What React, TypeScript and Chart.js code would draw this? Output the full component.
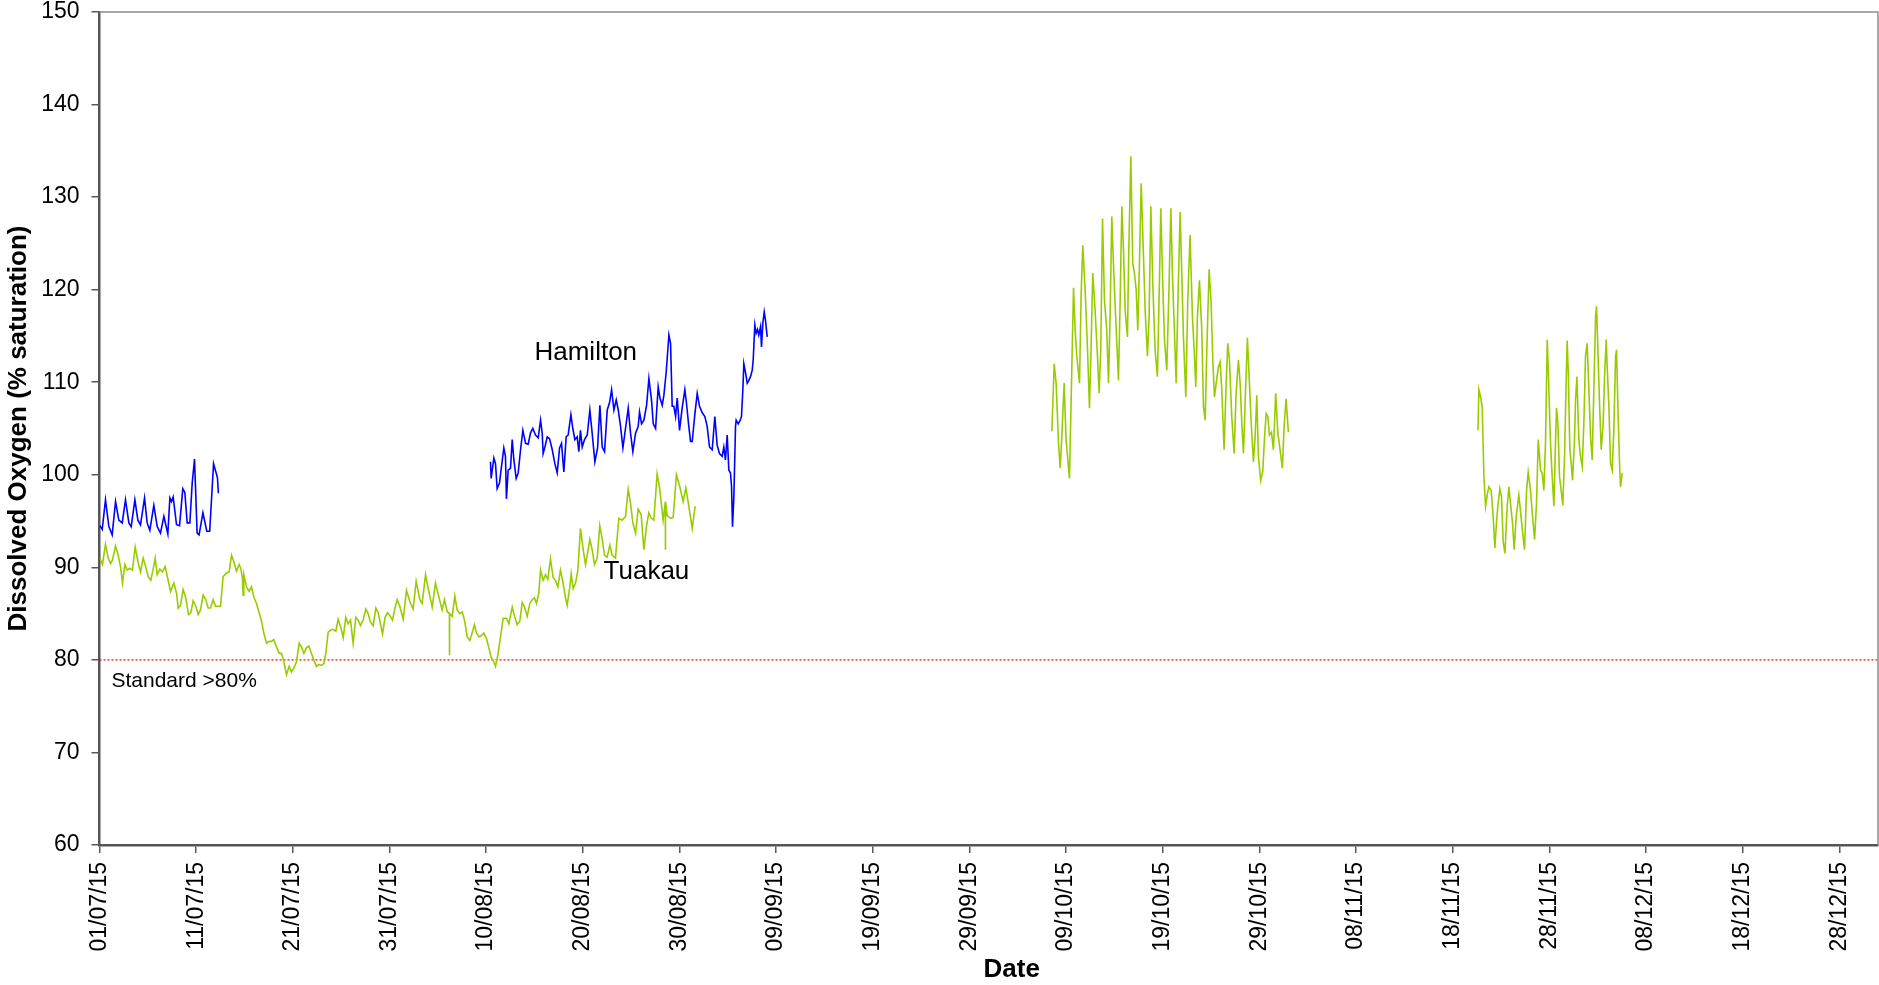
import { useEffect, useRef } from "react";
import { Chart, registerables, type Plugin } from "chart.js";

Chart.register(...registerables);

const FONT = '"Liberation Sans", Arial, sans-serif';

// x values are days counted from 01/07/15
const START = Date.UTC(2015, 6, 1);
const X_MAX = 184;
const Y_MIN = 60;
const Y_MAX = 150;
const STANDARD = 80;

type Pt = [number, number];

const hamiltonJul: Pt[] = [
  [0.03, 94.5], [0.28, 94.1], [0.62, 97.3], [0.97, 94.4], [1.31, 93.5], [1.66, 97.1], [2.0, 95.1], [2.35, 94.8],
  [2.69, 97.3], [3.04, 94.8], [3.28, 94.4], [3.66, 97.3], [3.97, 95.1], [4.24, 94.6], [4.66, 97.5], [4.93, 94.8],
  [5.21, 94.0], [5.62, 96.7], [5.97, 94.4], [6.31, 93.7], [6.66, 95.5], [7.07, 93.6], [7.28, 97.5], [7.45, 97.1],
  [7.62, 97.6], [7.97, 94.6], [8.28, 94.5], [8.62, 98.5], [8.83, 98.1], [9.07, 94.8], [9.35, 94.8], [9.59, 99.1],
  [9.83, 101.7], [10.1, 93.7], [10.3, 93.5], [10.7, 95.9], [11.1, 93.9], [11.4, 93.9], [11.8, 101.2], [12.2, 99.7],
  [12.3, 98.0],
];

const hamiltonAug: Pt[] = [
  [40.45, 101.4], [40.52, 99.6], [40.8, 101.8], [40.97, 101.2], [41.14, 98.5], [41.38, 99.1], [41.59, 100.9],
  [41.83, 102.9], [42.0, 102.0], [42.1, 97.4], [42.28, 100.5], [42.52, 100.7], [42.7, 103.8], [42.87, 101.6],
  [43.11, 99.6], [43.32, 100.2], [43.56, 102.7], [43.8, 104.8], [44.08, 103.4], [44.35, 103.3], [44.59, 104.5],
  [44.83, 105.0], [45.11, 104.3], [45.39, 104.0], [45.63, 105.9], [45.8, 104.5], [45.9, 102.3], [46.08, 103.0],
  [46.32, 104.1], [46.56, 103.9], [46.84, 102.7], [47.11, 101.2], [47.35, 100.2], [47.6, 102.9], [47.8, 103.4],
  [48.04, 100.3], [48.28, 104.1], [48.49, 104.3], [48.77, 106.5], [48.97, 105.0], [49.18, 103.8], [49.42, 104.1],
  [49.59, 102.5], [49.76, 104.8], [49.94, 103.0], [50.18, 103.8], [50.46, 104.3], [50.73, 107.0], [50.97, 104.5],
  [51.25, 101.4], [51.53, 102.9], [51.77, 107.5], [52.01, 103.0], [52.25, 102.5], [52.53, 107.0], [52.77, 107.8],
  [52.98, 109.2], [53.22, 107.0], [53.46, 108.1], [53.67, 107.0], [53.91, 105.2], [54.15, 102.9], [54.42, 105.0],
  [54.7, 107.2], [54.94, 104.5], [55.18, 102.5], [55.46, 104.5], [55.73, 105.2], [55.87, 106.8], [56.08, 105.5],
  [56.32, 105.9], [56.6, 107.5], [56.84, 110.4], [57.11, 108.1], [57.29, 105.5], [57.53, 105.0], [57.8, 109.5],
  [57.98, 108.3], [58.22, 107.5], [58.39, 108.6], [58.63, 111.1], [58.91, 115.1], [59.08, 114.2], [59.25, 107.4],
  [59.42, 107.4], [59.6, 106.3], [59.77, 108.3], [60.01, 104.8], [60.28, 107.2], [60.56, 109.2], [60.73, 107.7],
  [60.97, 105.2], [61.15, 103.6], [61.32, 103.6], [61.59, 106.5], [61.84, 108.8], [62.08, 107.4], [62.36, 106.7],
  [62.63, 106.3], [62.87, 105.2], [63.11, 103.0], [63.39, 102.7], [63.66, 106.3], [63.9, 103.2], [64.14, 102.3],
  [64.42, 102.0], [64.59, 103.0], [64.76, 101.6], [64.94, 104.3], [65.11, 100.5], [65.28, 100.2], [65.39, 98.7],
  [65.49, 94.4], [65.63, 97.6], [65.8, 105.2], [65.87, 105.9], [66.08, 105.5], [66.29, 105.9], [66.42, 106.3],
  [66.56, 109.2], [66.66, 112.0], [66.84, 111.0], [67.01, 109.9], [67.18, 110.2], [67.35, 110.6], [67.53, 111.3],
  [67.63, 112.4], [67.8, 116.2], [67.94, 115.3], [68.08, 115.7], [68.21, 115.1], [68.39, 116.0], [68.49, 113.8],
  [68.63, 116.4], [68.77, 117.6], [68.9, 116.7], [69.08, 114.9],
];

const tuakauJulSep: Pt[] = [
  [0.03, 91.0], [0.31, 90.3], [0.62, 92.5], [0.9, 91.0], [1.14, 90.4], [1.34, 90.8], [1.66, 92.3], [1.93, 91.3],
  [2.17, 90.1], [2.38, 88.3], [2.62, 90.3], [2.86, 89.7], [3.14, 89.9], [3.41, 89.7], [3.69, 92.2], [4.0, 90.5],
  [4.24, 89.5], [4.52, 91.0], [4.79, 90.0], [5.04, 89.0], [5.31, 88.6], [5.55, 89.8], [5.76, 91.0], [5.97, 89.2],
  [6.24, 89.8], [6.52, 89.5], [6.79, 90.1], [7.1, 88.6], [7.35, 87.4], [7.69, 88.3], [7.97, 87.2], [8.14, 85.6],
  [8.38, 85.9], [8.65, 87.6], [8.93, 86.7], [9.21, 84.9], [9.45, 85.1], [9.69, 86.4], [9.97, 85.8], [10.21, 84.9],
  [10.45, 85.4], [10.72, 87.0], [11.0, 86.5], [11.24, 85.6], [11.48, 85.6], [11.76, 86.5], [12.0, 85.8],
  [12.28, 85.8], [12.52, 85.8], [12.79, 89.0], [13.14, 89.4], [13.41, 89.5], [13.66, 91.3], [13.9, 90.6],
  [14.17, 89.6], [14.45, 90.3], [14.62, 89.9], [14.79, 88.8], [14.86, 87.0], [14.93, 89.2], [15.21, 87.9],
  [15.48, 87.4], [15.72, 87.9], [15.97, 86.8], [16.24, 86.1], [16.52, 85.1], [16.76, 84.2], [17.0, 82.9],
  [17.28, 81.8], [17.55, 82.0], [17.79, 82.0], [18.03, 82.2], [18.31, 81.4], [18.59, 80.7], [18.83, 80.7],
  [19.07, 79.8], [19.35, 78.4], [19.62, 79.3], [19.86, 78.7], [20.1, 79.1], [20.38, 79.8], [20.66, 81.8],
  [20.9, 81.4], [21.14, 80.7], [21.41, 81.3], [21.66, 81.5], [21.93, 80.7], [22.17, 80.0], [22.45, 79.3],
  [22.69, 79.5], [22.97, 79.4], [23.21, 79.6], [23.41, 80.7], [23.66, 83.0], [23.9, 83.2], [24.17, 83.3],
  [24.45, 83.1], [24.69, 84.4], [24.97, 83.5], [25.21, 82.4], [25.48, 84.6], [25.72, 83.9], [25.97, 84.3],
  [26.24, 81.8], [26.52, 84.6], [26.76, 84.3], [27.0, 83.7], [27.28, 84.3], [27.55, 85.5], [27.79, 85.0],
  [28.03, 84.1], [28.31, 83.7], [28.59, 85.6], [28.83, 85.1], [29.07, 83.9], [29.28, 82.8], [29.55, 84.6],
  [29.79, 85.1], [30.03, 84.8], [30.31, 84.3], [30.55, 85.5], [30.8, 86.5], [31.07, 85.8], [31.42, 84.4],
  [31.76, 87.5], [32.11, 86.3], [32.45, 85.5], [32.76, 88.5], [33.14, 86.5], [33.38, 86.1], [33.73, 89.2],
  [34.07, 87.4], [34.42, 85.7], [34.76, 88.3], [35.11, 86.8], [35.45, 85.4], [35.69, 86.5], [35.97, 85.2],
  [36.2, 85.0], [36.21, 80.5], [36.22, 85.0], [36.49, 84.7], [36.76, 86.9], [37.0, 85.4], [37.28, 85.0],
  [37.52, 85.2], [37.76, 84.3], [38.04, 82.5], [38.31, 82.1], [38.55, 82.9], [38.79, 83.8], [39.0, 82.9],
  [39.24, 82.5], [39.48, 82.6], [39.76, 82.9], [40.04, 82.3], [40.28, 81.3], [40.52, 80.3], [40.8, 79.8],
  [40.97, 79.3], [41.21, 80.5], [41.49, 82.5], [41.76, 84.5], [42.11, 84.5], [42.35, 83.9], [42.7, 85.7],
  [42.94, 84.7], [43.21, 83.8], [43.49, 84.2], [43.73, 86.2], [43.97, 85.7], [44.25, 84.7], [44.52, 86.1],
  [44.76, 86.5], [45.0, 86.7], [45.21, 86.1], [45.45, 87.2], [45.63, 89.7], [45.9, 88.6], [46.14, 89.2],
  [46.38, 88.7], [46.66, 90.9], [46.93, 88.9], [47.17, 88.6], [47.42, 87.9], [47.69, 89.7], [47.93, 88.5],
  [48.21, 86.7], [48.38, 85.9], [48.66, 87.9], [48.8, 89.3], [49.0, 87.7], [49.25, 88.3], [49.49, 89.7],
  [49.76, 94.2], [50.04, 91.9], [50.28, 90.3], [50.52, 91.7], [50.73, 93.0], [50.97, 91.9], [51.21, 90.3],
  [51.49, 91.0], [51.76, 94.5], [52.0, 93.1], [52.25, 91.3], [52.52, 91.1], [52.8, 92.4], [53.04, 91.3],
  [53.38, 91.0], [53.73, 95.3], [54.07, 95.1], [54.42, 95.5], [54.7, 98.4], [54.94, 96.9], [55.18, 94.8],
  [55.46, 93.7], [55.73, 96.3], [56.04, 95.7], [56.32, 91.9], [56.59, 94.4], [56.83, 95.9], [57.08, 95.3],
  [57.35, 95.1], [57.69, 100.1], [57.97, 98.4], [58.31, 95.1], [58.54, 97.1], [58.55, 91.9], [58.56, 97.1],
  [58.73, 95.6], [59.07, 95.3], [59.35, 95.4], [59.69, 100.0], [60.04, 98.7], [60.38, 97.1], [60.66, 98.6],
  [60.97, 96.6], [61.32, 94.2], [61.62, 96.6],
];

const tuakauOct: Pt[] = [
  [98.53, 104.7], [98.77, 112.0], [98.97, 109.9], [99.22, 103.4], [99.39, 100.7], [99.56, 104.1], [99.8, 109.9],
  [100.0, 103.8], [100.35, 99.6], [100.59, 111.3], [100.77, 120.2], [100.94, 115.6], [101.11, 112.8],
  [101.39, 109.9], [101.56, 119.6], [101.73, 124.8], [101.97, 120.0], [102.21, 113.8], [102.42, 107.2],
  [102.59, 113.8], [102.76, 121.8], [103.0, 117.8], [103.25, 112.8], [103.42, 108.8], [103.59, 113.5],
  [103.77, 127.7], [103.97, 118.9], [104.21, 115.6], [104.39, 109.9], [104.56, 117.5], [104.73, 127.9],
  [104.9, 122.8], [105.08, 118.2], [105.25, 114.2], [105.42, 110.2], [105.59, 118.5], [105.77, 129.0],
  [105.94, 124.3], [106.11, 117.8], [106.35, 114.9], [106.49, 124.3], [106.7, 134.4], [106.9, 122.8],
  [107.07, 121.8], [107.25, 120.0], [107.42, 115.6], [107.59, 122.8], [107.77, 131.5], [108.01, 123.6],
  [108.18, 117.8], [108.42, 112.8], [108.59, 117.1], [108.77, 129.0], [108.97, 120.7], [109.21, 113.5],
  [109.45, 110.6], [109.66, 121.0], [109.8, 128.8], [110.0, 120.7], [110.18, 114.6], [110.42, 111.3],
  [110.66, 120.7], [110.84, 128.8], [111.01, 121.4], [111.18, 116.4], [111.39, 109.9], [111.56, 118.2],
  [111.8, 128.4], [111.97, 121.8], [112.14, 114.9], [112.39, 108.4], [112.59, 118.9], [112.83, 125.9],
  [113.07, 117.1], [113.25, 113.5], [113.42, 109.5], [113.59, 117.1], [113.8, 121.0], [114.04, 115.6],
  [114.21, 107.4], [114.39, 105.9], [114.56, 113.5], [114.8, 122.2], [115.01, 118.5], [115.18, 112.4],
  [115.35, 108.4], [115.53, 109.9], [115.77, 111.7], [115.94, 112.2], [116.11, 109.2], [116.35, 102.7],
  [116.56, 109.9], [116.73, 114.2], [116.9, 112.4], [117.14, 106.3], [117.39, 102.3], [117.59, 108.8],
  [117.83, 112.4], [118.01, 109.9], [118.18, 105.6], [118.35, 102.3], [118.52, 107.7], [118.76, 114.8],
  [118.97, 109.9], [119.14, 105.9], [119.38, 101.4], [119.56, 104.1], [119.73, 108.6], [119.9, 101.9],
  [120.14, 99.4], [120.35, 100.4], [120.52, 103.8], [120.7, 106.6], [120.87, 106.3], [121.04, 104.3],
  [121.25, 104.6], [121.45, 102.7], [121.69, 108.8], [121.9, 104.6], [122.14, 102.7], [122.38, 100.7],
  [122.55, 105.1], [122.76, 108.2], [123.0, 104.6],
];

const tuakauNov: Pt[] = [
  [142.61, 104.8], [142.71, 109.2], [142.88, 108.4], [143.05, 107.4], [143.23, 99.8], [143.4, 96.6],
  [143.57, 97.8], [143.74, 98.7], [143.98, 98.3], [144.19, 95.5], [144.36, 92.1], [144.53, 94.8], [144.67, 96.6],
  [144.88, 98.5], [145.05, 97.6], [145.22, 92.8], [145.4, 91.5], [145.64, 96.6], [145.81, 98.7], [145.98, 96.9],
  [146.19, 94.8], [146.36, 91.9], [146.57, 95.5], [146.84, 97.8], [147.02, 96.0], [147.26, 93.5], [147.43, 91.9],
  [147.64, 98.3], [147.81, 100.3], [148.05, 98.3], [148.26, 95.5], [148.47, 93.0], [148.67, 96.9],
  [148.85, 103.8], [149.09, 100.5], [149.26, 100.2], [149.43, 98.3], [149.6, 103.4], [149.78, 114.6],
  [149.91, 110.6], [150.12, 103.4], [150.29, 99.8], [150.47, 96.6], [150.64, 103.8], [150.74, 107.2],
  [150.88, 105.6], [151.05, 99.8], [151.22, 98.3], [151.39, 96.7], [151.57, 102.0], [151.74, 110.2],
  [151.84, 114.5], [151.95, 111.3], [152.12, 102.7], [152.26, 101.2], [152.4, 99.4], [152.6, 103.8],
  [152.71, 108.1], [152.85, 110.6], [153.05, 103.8], [153.22, 102.0], [153.4, 100.9], [153.57, 105.6],
  [153.74, 112.8], [153.91, 114.2], [154.09, 109.2], [154.26, 104.1], [154.43, 101.6], [154.6, 109.2],
  [154.78, 117.1], [154.88, 118.2], [155.02, 113.5], [155.19, 107.7], [155.36, 102.7], [155.57, 105.6],
  [155.71, 110.6], [155.88, 114.6], [155.98, 111.7], [156.16, 107.4], [156.33, 101.2], [156.5, 100.5],
  [156.67, 104.8], [156.85, 112.8], [156.95, 113.5], [157.09, 107.4], [157.26, 101.2], [157.36, 98.7],
  [157.54, 100.2],
];

// in-plot text, anchored at (day, value), left/baseline
const notes = [
  { text: "Hamilton", day: 45.0, value: 112.4, size: 26 },
  { text: "Tuakau", day: 52.15, value: 88.7, size: 26 },
  { text: "Standard >80%", day: 1.24, value: 77.1, size: 21 },
];

const X_TITLE = "Date";
const Y_TITLE = "Dissolved Oxygen (% saturation)";

// segments joined with a null point so the line breaks between them
function joinSegments(segs: Pt[][]) {
  const out: { x: number; y: number | null }[] = [];
  segs.forEach((s, i) => {
    if (i > 0) {
      const prev = segs[i - 1];
      out.push({ x: (prev[prev.length - 1][0] + s[0][0]) / 2, y: null });
    }
    s.forEach(([x, y]) => out.push({ x, y }));
  });
  return out;
}

function fmtDate(v: number) {
  const d = new Date(START + Math.round(v) * 86400000);
  const p = (n: number) => String(n).padStart(2, "0");
  return `${p(d.getUTCDate())}/${p(d.getUTCMonth() + 1)}/${p(d.getUTCFullYear() % 100)}`;
}

const frameAndNotes: Plugin<"line"> = {
  id: "frameAndNotes",
  afterDatasetsDraw(chart) {
    const { ctx, chartArea: a, scales } = chart;
    ctx.save();
    ctx.strokeStyle = "#8c8c8c";
    ctx.lineWidth = 1.5;
    ctx.beginPath();
    ctx.moveTo(a.left, a.top);
    ctx.lineTo(a.right, a.top);
    ctx.lineTo(a.right, a.bottom);
    ctx.stroke();
    ctx.fillStyle = "#000";
    ctx.textAlign = "left";
    ctx.textBaseline = "alphabetic";
    notes.forEach((n) => {
      ctx.font = `${n.size}px ${FONT}`;
      ctx.fillText(n.text, scales.x.getPixelForValue(n.day), scales.y.getPixelForValue(n.value));
    });
    // x title sits a little right of the plot centre, as in the source
    ctx.font = `bold 26px ${FONT}`;
    ctx.textAlign = "center";
    ctx.textBaseline = "middle";
    ctx.fillText(X_TITLE, (a.left + a.right) / 2 + 23, scales.x.bottom - 15);
    ctx.restore();
  },
};

const tickGrid = {
  display: true,
  drawOnChartArea: false,
  drawTicks: true,
  tickLength: 8,
  color: "#595959",
  lineWidth: 1.5,
};

export default function App() {
  const ref = useRef<HTMLCanvasElement>(null);

  useEffect(() => {
    document.body.style.margin = "0";
    document.body.style.overflow = "hidden";
    if (!ref.current) return;
    const chart = new Chart(ref.current, {
      type: "line",
      data: {
        datasets: [
          {
            label: "Hamilton",
            data: joinSegments([hamiltonJul, hamiltonAug]),
            borderColor: "#0000ff",
            borderWidth: 1.6,
            pointRadius: 0,
            spanGaps: false,
            order: 1,
          },
          {
            label: "Tuakau",
            data: joinSegments([tuakauJulSep, tuakauOct, tuakauNov]),
            borderColor: "#99cc00",
            borderWidth: 1.6,
            pointRadius: 0,
            spanGaps: false,
            order: 2,
          },
          {
            label: "Standard",
            data: [
              { x: 0, y: STANDARD },
              { x: X_MAX, y: STANDARD },
            ],
            borderColor: "#ff0000",
            borderWidth: 1.2,
            borderDash: [2, 2],
            pointRadius: 0,
            order: 3,
          },
        ],
      },
      options: {
        responsive: true,
        maintainAspectRatio: false,
        animation: false,
        events: [],
        layout: { padding: { left: 0, right: 1, top: 12, bottom: 0 } },
        plugins: {
          legend: { display: false },
          tooltip: { enabled: false },
        },
        scales: {
          x: {
            type: "linear",
            min: 0,
            max: X_MAX,
            afterFit: (s) => {
              s.height = 140;
            },
            ticks: {
              stepSize: 10,
              includeBounds: false,
              autoSkip: false,
              minRotation: 90,
              maxRotation: 90,
              padding: 9,
              color: "#000",
              font: { family: FONT, size: 23 },
              callback: (v) => fmtDate(Number(v)),
            },
            grid: tickGrid,
            border: { display: true, color: "#555", width: 2.5 },
          },
          y: {
            type: "linear",
            min: Y_MIN,
            max: Y_MAX,
            afterFit: (s) => {
              s.width = 99.5;
              s.paddingTop = 0;
              s.paddingBottom = 0;
            },
            ticks: {
              stepSize: 10,
              padding: 12,
              color: "#000",
              font: { family: FONT, size: 23 },
            },
            grid: tickGrid,
            border: { display: true, color: "#555", width: 2.5 },
            title: {
              display: true,
              text: Y_TITLE,
              color: "#000",
              font: { family: FONT, size: 26, weight: "bold" },
              padding: { top: 3, bottom: 0 },
            },
          },
        },
      },
      plugins: [frameAndNotes],
    });
    return () => chart.destroy();
  }, []);

  return (
    <div style={{ position: "absolute", left: 0, top: 0, width: 1879, height: 985, background: "#fff" }}>
      <canvas ref={ref} />
    </div>
  );
}
